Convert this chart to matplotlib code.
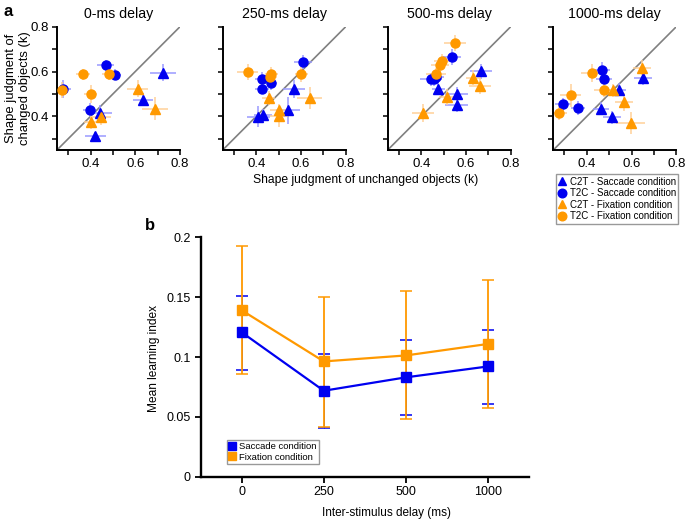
import numpy as np
import matplotlib
matplotlib.use('Agg')
import matplotlib.pyplot as plt
from matplotlib.lines import Line2D

plt.rcParams['font.family'] = ['Liberation Sans', 'DejaVu Sans']

# ---- panel a data (one list of 4 points per delay) ----
delays = ['0-ms delay', '250-ms delay', '500-ms delay', '1000-ms delay']

# C2T - Saccade condition
c2t_sac_x = [[0.723, 0.634, 0.444, 0.422], [0.410, 0.432, 0.542, 0.569],
             [0.668, 0.477, 0.558, 0.558], [0.463, 0.514, 0.544, 0.651]]
c2t_sac_y = [[0.595, 0.475, 0.416, 0.312], [0.398, 0.405, 0.427, 0.521],
             [0.601, 0.524, 0.499, 0.450], [0.435, 0.395, 0.519, 0.571]]
c2t_sac_xe = [[0.058, 0.045, 0.050, 0.047], [0.050, 0.040, 0.055, 0.050],
              [0.050, 0.030, 0.050, 0.050], [0.035, 0.040, 0.030, 0.040]]
c2t_sac_ye = [[0.039, 0.030, 0.035, 0.020], [0.047, 0.030, 0.060, 0.040],
              [0.033, 0.030, 0.030, 0.030], [0.030, 0.030, 0.030, 0.030]]

# T2C - Saccade condition
t2c_sac_x = [[0.467, 0.508, 0.277, 0.396], [0.609, 0.426, 0.426, 0.464],
             [0.537, 0.443, 0.467, 0.458], [0.294, 0.361, 0.469, 0.478]]
t2c_sac_y = [[0.627, 0.586, 0.521, 0.430], [0.642, 0.568, 0.524, 0.549],
             [0.664, 0.565, 0.576, 0.566], [0.454, 0.438, 0.608, 0.568]]
t2c_sac_xe = [[0.037, 0.030, 0.035, 0.030], [0.040, 0.030, 0.033, 0.030],
              [0.040, 0.050, 0.035, 0.035], [0.035, 0.030, 0.035, 0.035]]
t2c_sac_ye = [[0.025, 0.025, 0.040, 0.030], [0.030, 0.030, 0.025, 0.030],
              [0.037, 0.030, 0.030, 0.030], [0.030, 0.030, 0.035, 0.030]]

# C2T - Fixation condition
c2t_fix_x = [[0.610, 0.689, 0.447, 0.400], [0.455, 0.503, 0.500, 0.639],
             [0.407, 0.515, 0.633, 0.662], [0.519, 0.567, 0.597, 0.646]]
c2t_fix_y = [[0.524, 0.435, 0.398, 0.373], [0.482, 0.427, 0.402, 0.482],
             [0.416, 0.487, 0.573, 0.534], [0.516, 0.464, 0.371, 0.617]]
c2t_fix_xe = [[0.048, 0.059, 0.045, 0.030], [0.030, 0.040, 0.040, 0.055],
              [0.050, 0.035, 0.035, 0.050], [0.035, 0.040, 0.065, 0.040]]
c2t_fix_ye = [[0.037, 0.052, 0.037, 0.030], [0.030, 0.030, 0.050, 0.048],
              [0.040, 0.035, 0.035, 0.035], [0.030, 0.040, 0.048, 0.033]]

# T2C - Fixation condition
t2c_fix_x = [[0.271, 0.367, 0.400, 0.481], [0.363, 0.468, 0.462, 0.602],
             [0.552, 0.492, 0.482, 0.467], [0.275, 0.327, 0.424, 0.478]]
t2c_fix_y = [[0.519, 0.587, 0.501, 0.587], [0.598, 0.590, 0.575, 0.587],
             [0.727, 0.647, 0.630, 0.587], [0.417, 0.494, 0.595, 0.516]]
t2c_fix_xe = [[0.030, 0.032, 0.030, 0.030], [0.047, 0.030, 0.030, 0.030],
              [0.050, 0.035, 0.040, 0.045], [0.035, 0.048, 0.048, 0.045]]
t2c_fix_ye = [[0.035, 0.025, 0.040, 0.025], [0.037, 0.030, 0.030, 0.035],
              [0.037, 0.030, 0.030, 0.030], [0.035, 0.050, 0.040, 0.030]]

# ---- panel b data ----
isi_labels = ['0', '250', '500', '1000']
sac_mean = [0.1206, 0.0718, 0.0830, 0.0921]
sac_low = [0.0894, 0.0410, 0.0514, 0.0606]
sac_high = [0.1508, 0.1028, 0.1145, 0.1228]
fix_mean = [0.1390, 0.0963, 0.1013, 0.1109]
fix_low = [0.0858, 0.0419, 0.0483, 0.0575]
fix_high = [0.1926, 0.1503, 0.1555, 0.1640]

blue = '#0000f0'
orange = '#ff9900'
blue_err = '#9a9aff'
orange_err = '#ffd199'

W, H = 685, 520
fig = plt.figure(figsize=(6.85, 5.2), dpi=100)

series = [
    (c2t_sac_x, c2t_sac_y, c2t_sac_xe, c2t_sac_ye, blue, blue_err, '^', 6.5, 'C2T - Saccade condition'),
    (t2c_sac_x, t2c_sac_y, t2c_sac_xe, t2c_sac_ye, blue, blue_err, 'o', 6.5, 'T2C - Saccade condition'),
    (c2t_fix_x, c2t_fix_y, c2t_fix_xe, c2t_fix_ye, orange, orange_err, '^', 6.5, 'C2T - Fixation condition'),
    (t2c_fix_x, t2c_fix_y, t2c_fix_xe, t2c_fix_ye, orange, orange_err, 'o', 6.5, 'T2C - Fixation condition'),
]

lefts = [57, 222.7, 387.7, 553.3]
for i, name in enumerate(delays):
    ax = fig.add_axes([lefts[i] / W, 1 - 150 / H, 123 / W, 123.3 / H])
    ax.plot([0.25, 0.8], [0.25, 0.8], color='#808080', lw=1.2, zorder=1)
    for sx, sy, sxe, sye, col, ecol, mk, ms, lab in series:
        ax.errorbar(sx[i], sy[i], xerr=sxe[i], yerr=sye[i], fmt='none',
                    ecolor=ecol, elinewidth=1.1, capsize=0, zorder=2)
    for sx, sy, sxe, sye, col, ecol, mk, ms, lab in series:
        ax.plot(sx[i], sy[i], ls='none', marker=mk, ms=ms, color=col,
                mec=col, zorder=3)
    ax.set_xlim(0.25, 0.8)
    ax.set_ylim(0.25, 0.8)
    ticks = [0.3, 0.4, 0.5, 0.6, 0.7, 0.8]
    labs = ['', '0.4', '', '0.6', '', '0.8']
    ax.set_xticks(ticks)
    ax.set_xticklabels(labs)
    ax.set_yticks(ticks)
    if i == 0:
        ax.set_yticklabels(labs)
    else:
        ax.set_yticklabels([])
    for s in ['top', 'right']:
        ax.spines[s].set_visible(False)
    for s in ['left', 'bottom']:
        ax.spines[s].set_linewidth(1.4)
    ax.tick_params(direction='out', length=3.5, width=1.1, labelsize=9.5, pad=2)
    ax.set_title(name, fontsize=10.2, pad=6)

fig.text(3 / W, 1 - 12 / H, 'a', fontsize=12, fontweight='bold', va='center')
fig.text(18 / W, 1 - 88 / H, 'Shape judgment of\nchanged objects (k)', rotation=90,
         ha='center', va='center', fontsize=9.4, multialignment='center',
         linespacing=1.25)
fig.text(366 / W, 1 - 180 / H, 'Shape judgment of unchanged objects (k)',
         ha='center', va='center', fontsize=8.7)

handles = [Line2D([], [], ls='none', marker=s[6], ms=6.2, color=s[4]) for s in series]
fig.legend(handles, [s[8] for s in series], loc='upper right',
           bbox_to_anchor=(678.3 / W, 1 - 174.3 / H), fontsize=7.0,
           frameon=True, fancybox=False, edgecolor='#808080',
           handlelength=0.8, handletextpad=0.4, labelspacing=0.15,
           borderpad=0.25, borderaxespad=0)

# ---- panel b ----
axb = fig.add_axes([200.7 / W, 1 - 476.7 / H, 328.3 / W, 239.4 / H])
xs = np.arange(len(isi_labels))
sm = np.array(sac_mean)
fm = np.array(fix_mean)
axb.errorbar(xs, sm, yerr=[sm - np.array(sac_low), np.array(sac_high) - sm],
             fmt='none', ecolor=blue, elinewidth=0.6, capsize=4.2, capthick=1.1, zorder=1)
axb.errorbar(xs, fm, yerr=[fm - np.array(fix_low), np.array(fix_high) - fm],
             fmt='none', ecolor=orange, elinewidth=1.3, capsize=4.2, capthick=1.1, zorder=2)
axb.plot(xs, sm, color=blue, lw=1.6, marker='s', ms=6.5, zorder=3,
         label='Saccade condition')
axb.plot(xs, fm, color=orange, lw=1.6, marker='s', ms=6.5, zorder=4,
         label='Fixation condition')
axb.set_xlim(-0.5, 3.5)
axb.set_ylim(0, 0.2)
axb.set_xticks(xs)
axb.set_xticklabels(isi_labels)
axb.set_yticks([0, 0.05, 0.1, 0.15, 0.2])
axb.set_yticklabels(['0', '0.05', '0.1', '0.15', '0.2'])
for s in ['top', 'right']:
    axb.spines[s].set_visible(False)
for s in ['left', 'bottom']:
    axb.spines[s].set_linewidth(1.7)
axb.tick_params(direction='out', length=4, width=1.3, labelsize=9, pad=3)
leg = axb.legend(loc='lower left', bbox_to_anchor=(0.079, 0.053), fontsize=6.8,
                 frameon=True, fancybox=False, edgecolor='#808080',
                 handlelength=0.7, handletextpad=0.4, labelspacing=0.15,
                 borderpad=0.25, borderaxespad=0)
for h in leg.legend_handles:
    h.set_linestyle('none')
    h.set_markersize(5.5)

fig.text(145 / W, 1 - 225 / H, 'b', fontsize=12, fontweight='bold', va='center')
fig.text(154 / W, 1 - 358 / H, 'Mean learning index', rotation=90,
         ha='center', va='center', fontsize=8.6)
fig.text(386.7 / W, 1 - 512.7 / H, 'Inter-stimulus delay (ms)',
         ha='center', va='center', fontsize=8.5)

fig.savefig('out.png', dpi=100)
